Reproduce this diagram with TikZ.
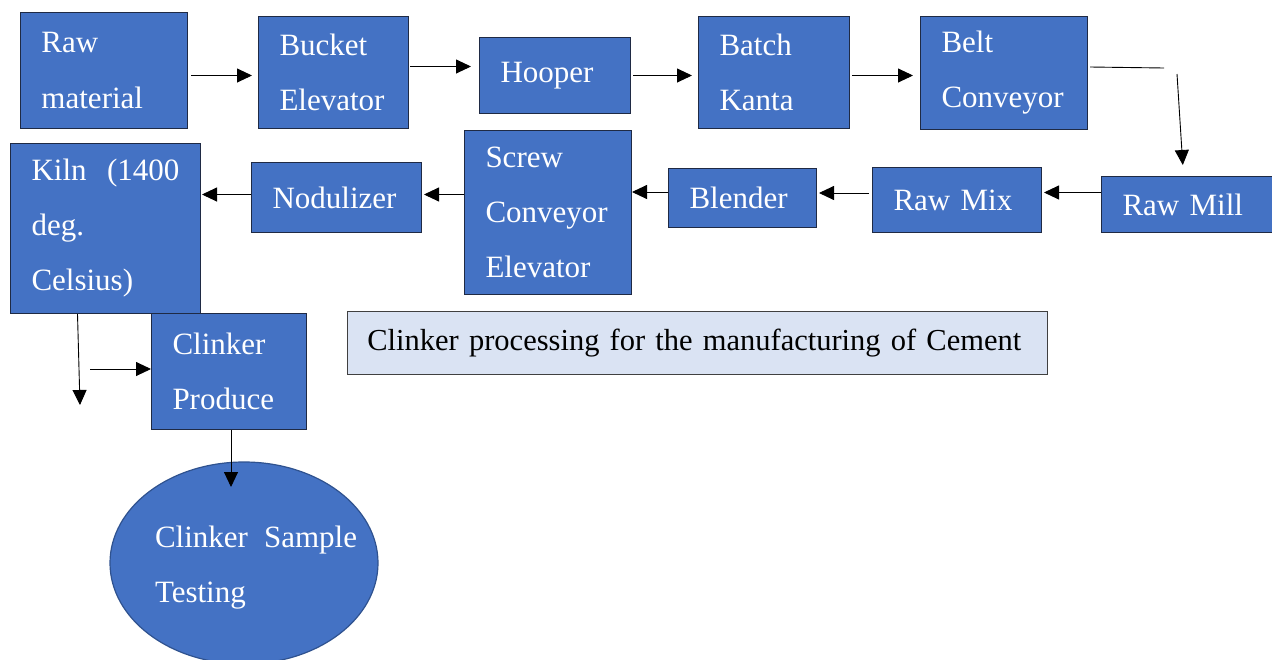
\documentclass[tikz,border=0pt]{standalone}
\usepackage{fontspec}
\setmainfont{Liberation Serif}
\usetikzlibrary{arrows.meta,shapes.geometric}
\definecolor{stageblue}{HTML}{4472C4}
\definecolor{stageedge}{HTML}{1F2A44}
\definecolor{ovaledge}{HTML}{2F528F}
\definecolor{notefill}{HTML}{DAE3F3}
\tikzset{
  stage/.style={draw=stageedge, line width=1pt, fill=stageblue, text=white, anchor=north west, align=left, inner xsep=21pt, inner ysep=0pt, font=\fontsize{31}{55}\selectfont},
  arr/.style={line width=0.9pt, -{Triangle[length=15pt,width=14pt]}},
}

\begin{document}
\begin{tikzpicture}[x=1pt, y=-1pt]
			%%%%% START %%%%%
			\useasboundingbox (0,0) rectangle (1272,659);
			
			% top row
			\node[stage, minimum width=167pt, text width=125pt, minimum height=116pt] (raw) at (20,12) {Raw\\material};
			\node[stage, minimum width=150pt, text width=108pt, minimum height=112pt] (bucket) at (258,16) {Bucket\\Elevator};
			\node[stage, minimum width=151pt, text width=109pt, minimum height=76pt] (hooper) at (479,37) {Hooper};
			\node[stage, minimum width=151pt, text width=109pt, minimum height=112pt] (batch) at (698,16) {Batch\\Kanta};
			\node[stage, minimum width=167pt, text width=125pt, minimum height=113pt] (belt) at (920,16) {Belt\\Conveyor};
			
			% second row, right to left
			\node[stage, minimum width=180pt, text width=138pt, minimum height=56pt] (mill) at (1101,176) {Raw Mill};
			\node[stage, minimum width=169pt, text width=127pt, minimum height=65pt] (mix) at (872,167) {Raw Mix};
			\node[stage, minimum width=148pt, text width=106pt, minimum height=59pt] (blender) at (668,168) {Blender};
			\node[stage, minimum width=167pt, text width=125pt, minimum height=164pt] (screw) at (464,130) {Screw\\Conveyor\\Elevator};
			\node[stage, minimum width=170pt, text width=128pt, minimum height=70pt] (nodul) at (251,162) {Nodulizer};
			\node[stage, minimum width=190pt, text width=148pt, minimum height=170pt] (kiln) at (10,143) {Kiln\hfill(1400\\deg.\\Celsius)};
			
			% clinker and testing
			\node[stage, minimum width=155pt, text width=113pt, minimum height=116pt] (produce) at (151,313) {Clinker\\Produce};
			\node[ellipse, draw=ovaledge, line width=1.2pt, fill=stageblue, minimum width=268pt, minimum height=202pt, inner sep=0pt] (test) at (244,563) {};
			\node[text=white, align=left, text width=202pt, inner sep=0pt, font=\fontsize{31}{55}\selectfont] (testlabel) at (256,568) {Clinker\hfill Sample\\Testing};
			
			\node[draw=black!75, line width=0.8pt, fill=notefill, anchor=north west, minimum width=700pt, minimum height=63pt, inner xsep=20pt, inner ysep=0pt, text width=660pt, align=left, font=\fontsize{30.5}{55}\selectfont] (note) at (347,311) {\mbox{Clinker processing for the manufacturing of Cement}};
			
			% top row arrows
			\draw[arr, shorten <=3pt, shorten >=6pt] ([yshift=-5pt]raw.east) -- ([yshift=-5pt]raw.east -| bucket.west);
			\draw[arr, shorten <=1pt, shorten >=8pt] ([yshift=6pt]bucket.east) -- ([yshift=6pt]bucket.east -| hooper.west);
			\draw[arr, shorten <=2pt, shorten >=6pt] (hooper.east) -- (hooper.east -| batch.west);
			\draw[arr, shorten <=2pt, shorten >=7pt] ([yshift=-3pt]batch.east) -- ([yshift=-3pt]batch.east -| belt.west);
			
			% belt down to the mill
			\coordinate (beltend) at (1164,68);
			\coordinate (millin) at (1177,74);
			\draw[line width=0.9pt] ([xshift=2pt,yshift=6pt]belt.east) -- (beltend);
			\draw[arr, shorten >=11pt] (millin) -- ([xshift=-8pt]mill.north);
			
			% second row arrows
			\draw[arr, shorten >=2pt] ([yshift=12pt]mill.west) -- ([yshift=12pt]mill.west -| mix.east);
			\draw[arr, shorten <=3pt, shorten >=2pt] ([yshift=7pt]mix.west) -- ([yshift=7pt]mix.west -| blender.east);
			\draw[arr] ([yshift=6pt]blender.west) -- ([yshift=6pt]blender.west -| screw.east);
			\draw[arr, shorten >=2pt] ([yshift=18pt]screw.west) -- ([yshift=18pt]screw.west -| nodul.east);
			\draw[arr, shorten >=1pt] ([yshift=3pt]nodul.west) -- ([yshift=3pt]nodul.west -| kiln.east);
			
			% out of the kiln
			\coordinate (kilnout) at (80,405);
			\coordinate (feed) at (90,369);
			\draw[arr] ([xshift=-28pt]kiln.south) -- (kilnout);
			\draw[arr] (feed) -- (feed -| produce.west);
			\draw[arr, shorten >=76pt] ([xshift=2pt]produce.south) -- ([xshift=2pt]produce.south |- test.center);
			
			%%%%% END %%%%%
\end{tikzpicture}
\end{document}
